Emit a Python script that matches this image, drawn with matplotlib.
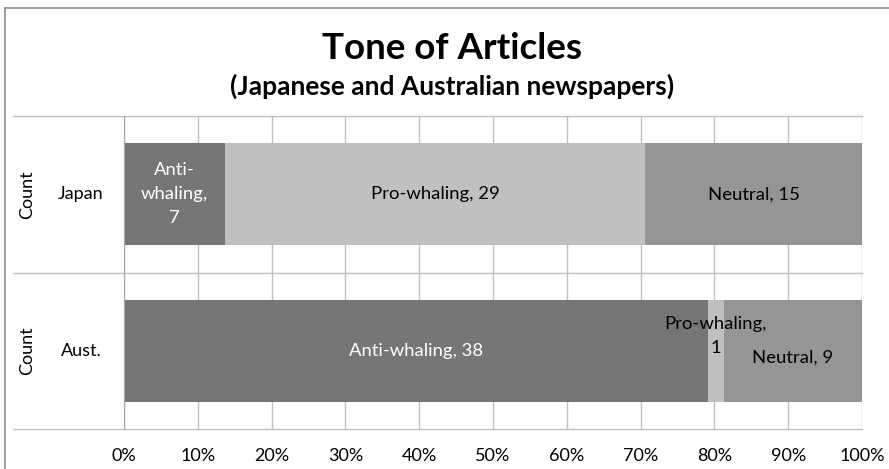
import matplotlib.pyplot as plt
import numpy as np
from matplotlib.lines import Line2D

plt.rcParams['font.family'] = ['Lato', 'DejaVu Sans']

# data
countries = ['Japan', 'Aust.']
tones = ['Anti-whaling', 'Pro-whaling', 'Neutral']
anti = [7, 38]
pro = [29, 1]
neutral = [15, 9]
pct_ticks = ['0%', '10%', '20%', '30%', '40%', '50%', '60%', '70%', '80%', '90%', '100%']

colors = ['#767676', '#c0c0c0', '#959595']
text_colors = ['white', 'black', 'black']
grid_col = '#bfbfbf'

W, H = 889, 469
fig = plt.figure(figsize=(W / 100, H / 100), dpi=100)
ax = fig.add_axes([124 / W, 40 / H, 738 / W, 313 / H])

counts = np.array([anti, pro, neutral], dtype=float)
shares = counts / counts.sum(axis=0)
ypos = [1, 0]  # Japan on top
bar_h = 0.65

# label text per (tone, country) and a small vertical nudge where the
# original places them off-centre
labels = {
    (0, 0): 'Anti-\nwhaling,\n7',
    (1, 0): 'Pro-whaling, 29',
    (2, 0): 'Neutral, 15',
    (0, 1): 'Anti-whaling, 38',
    (1, 1): 'Pro-whaling,\n1',
    (2, 1): 'Neutral, 9',
}
nudge = {(1, 1): 0.095, (2, 1): -0.045}

left = np.zeros(len(countries))
for i in range(len(tones)):
    ax.barh(ypos, shares[i], left=left, height=bar_h, color=colors[i],
            edgecolor='none', zorder=2)
    for j in range(len(countries)):
        cx = left[j] + shares[i][j] / 2
        cy = ypos[j] + nudge.get((i, j), 0)
        ax.text(cx, cy, labels[(i, j)], ha='center', va='center',
                fontsize=13.3, color=text_colors[i], linespacing=1.6,
                zorder=3)
    left += shares[i]

ax.set_xlim(0, 1)
ax.set_ylim(-0.5, 1.5)
ax.set_xticks(np.linspace(0, 1, 11))
ax.set_xticklabels(pct_ticks, fontsize=13)
ax.set_yticks([])
ax.tick_params(axis='x', length=0, pad=14)
ax.grid(axis='x', color=grid_col, linewidth=1, zorder=0)
for s in ['top', 'right', 'bottom']:
    ax.spines[s].set_visible(False)
ax.spines['left'].set_color('#a6a6a6')

# row boundary lines running out into the category label area
x0 = (13 - 124) / 738
for yb in [-0.5, 0.5, 1.5]:
    ax.plot([x0, 1], [yb, yb], transform=ax.get_yaxis_transform(),
            color=grid_col, linewidth=1, clip_on=False, zorder=1)

for j, name in enumerate(countries):
    ax.text(x0 + (81 - 13) / 738, ypos[j], name, transform=ax.get_yaxis_transform(),
            ha='center', va='center', fontsize=13)
    ax.text((27 - 124) / 738, ypos[j], 'Count', transform=ax.get_yaxis_transform(),
            ha='center', va='center', rotation=90, fontsize=13)

fig.text(452 / W, 1 - 59 / H, 'Tone of Articles', ha='center', va='baseline',
         fontsize=26.5, fontweight='bold')
fig.text(452 / W, 1 - 95 / H, '(Japanese and Australian newspapers)', ha='center',
         va='baseline', fontsize=19, fontweight='bold')

# chart frame (top and left edges visible)
fig.add_artist(Line2D([5 / W, 1], [1 - 8 / H, 1 - 8 / H], color='#8c8c8c', linewidth=1.2))
fig.add_artist(Line2D([5 / W, 5 / W], [0, 1 - 8 / H], color='#8c8c8c', linewidth=1.2))

fig.savefig('out.png', dpi=100)
